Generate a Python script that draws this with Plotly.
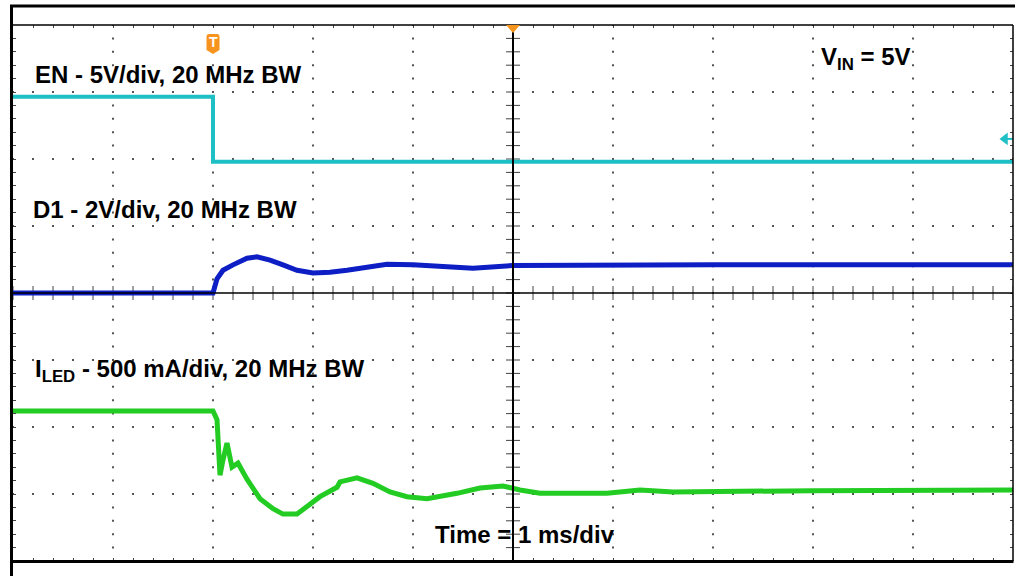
import numpy as np
import plotly.graph_objects as go

# ---- data (time in ms, amplitude in screen divisions, 0 = centre line) ----
en_t = [-5.0, -3.0, -3.0, 5.0]
en_div = [2.93, 2.93, 1.96, 1.96]

d1_t = [-5.0, -3.0, -2.96, -2.90, -2.80, -2.66, -2.56, -2.43, -2.30, -2.16, -2.00,
        -1.83, -1.66, -1.46, -1.26, -1.00, -0.66, -0.40, 0.0, 1.0, 2.0, 3.0, 4.0, 5.0]
d1_div = [0.0, 0.0, 0.21, 0.34, 0.42, 0.52, 0.54, 0.49, 0.42, 0.34, 0.30,
          0.31, 0.34, 0.39, 0.43, 0.42, 0.39, 0.37, 0.41, 0.42, 0.42, 0.42, 0.42, 0.42]

iled_t = [-5.0, -3.0, -2.96, -2.95, -2.93, -2.90, -2.86, -2.81, -2.75, -2.66, -2.53,
          -2.40, -2.30, -2.16, -2.06, -1.93, -1.76, -1.73, -1.56, -1.40, -1.23, -1.06,
          -0.86, -0.73, -0.56, -0.33, -0.10, 0.07, 0.27, 0.60, 0.94, 1.27, 1.60, 3.0, 5.0]
iled_div = [-1.76, -1.76, -1.89, -2.19, -2.72, -2.49, -2.24, -2.60, -2.54, -2.78, -3.07,
            -3.22, -3.30, -3.30, -3.18, -3.04, -2.90, -2.82, -2.76, -2.84, -2.97, -3.04,
            -3.07, -3.04, -2.99, -2.91, -2.88, -2.94, -2.99, -2.99, -2.99, -2.94, -2.97, -2.95, -2.94]

trigger_t = -3.0
en_marker_div = 2.30

labels = {
    "en": "<b>EN - 5V/div, 20 MHz BW</b>",
    "d1": "<b>D1 - 2V/div, 20 MHz BW</b>",
    "iled": "<b>I<sub>LED</sub> - 500 mA/div, 20 MHz BW</b>",
    "vin": "<b>V<sub>IN</sub> = 5V</b>",
    "time": "<b>Time = 1 ms/div</b>",
}

CYAN = "#1fbfc6"
BLUE = "#0c1ec4"
GREEN = "#22cc22"
ORANGE = "#f7941d"
FONT = "Liberation Sans, Arial, sans-serif"

fig = go.Figure()

# ---- graticule dots ----
minor_x = np.round(np.arange(-5, 5.0001, 0.2), 3)
minor_y = np.round(np.arange(-4, 4.0001, 0.2), 3)
gx, gy = [], []
for yv in [-3, -2, -1, 1, 2, 3]:
    gx += list(minor_x); gy += [yv] * len(minor_x)
for xv in [-4, -3, -2, -1, 1, 2, 3, 4]:
    gx += [xv] * len(minor_y); gy += list(minor_y)
fig.add_trace(go.Scatter(x=gx, y=gy, mode="markers", hoverinfo="skip", showlegend=False,
                         marker=dict(symbol="square", size=2, color="#555555", line=dict(width=0))))
# ticks on the centre axes
fig.add_trace(go.Scatter(x=list(minor_x), y=[0] * len(minor_x), mode="markers", hoverinfo="skip",
                         showlegend=False,
                         marker=dict(symbol="line-ns", size=10, line=dict(width=1, color="#444444"))))
fig.add_trace(go.Scatter(x=[0] * len(minor_y), y=list(minor_y), mode="markers", hoverinfo="skip",
                         showlegend=False,
                         marker=dict(symbol="line-ew", size=10, line=dict(width=1, color="#444444"))))

# ---- traces ----
fig.add_trace(go.Scatter(x=en_t, y=en_div, mode="lines", line=dict(color=CYAN, width=4),
                         showlegend=False, name="EN"))
fig.add_trace(go.Scatter(x=d1_t, y=d1_div, mode="lines", line=dict(color=BLUE, width=5),
                         showlegend=False, name="D1"))
fig.add_trace(go.Scatter(x=iled_t, y=iled_div, mode="lines", line=dict(color=GREEN, width=5),
                         showlegend=False, name="ILED"))

# channel marker at right edge
fig.add_trace(go.Scatter(x=[4.92], y=[en_marker_div], mode="markers", hoverinfo="skip",
                         showlegend=False, cliponaxis=False,
                         marker=dict(symbol="triangle-left", size=11, color=CYAN, line=dict(width=0))))

shapes = []
# centre lines
shapes.append(dict(type="line", xref="x", yref="y", x0=0, x1=0, y0=-4, y1=4,
                   line=dict(color="black", width=2), layer="above"))
shapes.append(dict(type="line", xref="x", yref="y", x0=-5, x1=5, y0=0, y1=0,
                   line=dict(color="black", width=1.5), layer="above"))
shapes.append(dict(type="line", xref="x", yref="y", x0=4.92, x1=5.0, y0=en_marker_div, y1=en_marker_div,
                   line=dict(color=CYAN, width=2)))
# frame
shapes += [
    dict(type="line", xref="paper", yref="paper", x0=-0.003, x1=1.003, y0=1.0354, y1=1.0354,
         line=dict(color="black", width=3)),
    dict(type="line", xref="paper", yref="paper", x0=-0.002, x1=1.0, y0=1.0, y1=1.0,
         line=dict(color="black", width=1.5)),
    dict(type="line", xref="paper", yref="paper", x0=-0.0015, x1=-0.0015, y0=-0.03, y1=1.037,
         line=dict(color="black", width=3)),
    dict(type="line", xref="paper", yref="paper", x0=1.0, x1=1.0, y0=0, y1=1.0,
         line=dict(color="black", width=1.5)),
    dict(type="line", xref="paper", yref="paper", x0=-0.002, x1=1.0005, y0=-0.001, y1=-0.001,
         line=dict(color="black", width=3)),
]
# trigger position marker (orange triangle on top)
shapes.append(dict(type="path", xref="x", yref="paper", xsizemode="pixel", ysizemode="pixel",
                   xanchor=0, yanchor=1, path="M -7 0 L 7 0 L 0 -8 Z",
                   fillcolor=ORANGE, line=dict(width=0)))
# trigger "T" badge
shapes.append(dict(type="path", xref="x", yref="y", xsizemode="pixel", ysizemode="pixel",
                   xanchor=trigger_t, yanchor=3.716,
                   path="M -6.5 7 Q -6.5 10 -4 10 L 4 10 Q 6.5 10 6.5 7 L 6.5 -6 L 0 -10 L -6.5 -6 Z",
                   fillcolor=ORANGE, line=dict(width=0)))

ann = []
def add_text(key, x, y, size=24):
    ann.append(dict(x=x, y=y, xref="x", yref="y", text=labels[key], showarrow=False,
                    xanchor="left", yanchor="middle", font=dict(family=FONT, size=size, color="black")))

add_text("en", -4.80, 3.26)
add_text("d1", -4.82, 1.25)
add_text("iled", -4.80, -1.16)
add_text("vin", 3.06, 3.50)
add_text("time", -0.80, -3.60)
ann.append(dict(x=trigger_t, y=3.74, xref="x", yref="y", text="<b>T</b>", showarrow=False,
                xanchor="center", yanchor="middle", font=dict(family=FONT, size=14, color="white")))

fig.update_layout(
    width=1015, height=576,
    margin=dict(l=13, r=2, t=25, b=15),
    paper_bgcolor="white", plot_bgcolor="white",
    shapes=shapes, annotations=ann,
    xaxis=dict(range=[-5, 5], showgrid=False, zeroline=False, showline=False,
               ticks="inside", tick0=-5, dtick=0.2, ticklen=3, tickwidth=1, tickcolor="#444444",
               mirror="ticks", showticklabels=False, fixedrange=True),
    yaxis=dict(range=[-4, 4], showgrid=False, zeroline=False, showline=False,
               ticks="inside", tick0=-4, dtick=0.2, ticklen=3, tickwidth=1, tickcolor="#444444",
               mirror="ticks", showticklabels=False, fixedrange=True),
    showlegend=False,
)

fig.write_html("out.html", config={"displayModeBar": False},
               post_script="document.body.style.margin='0px';")
